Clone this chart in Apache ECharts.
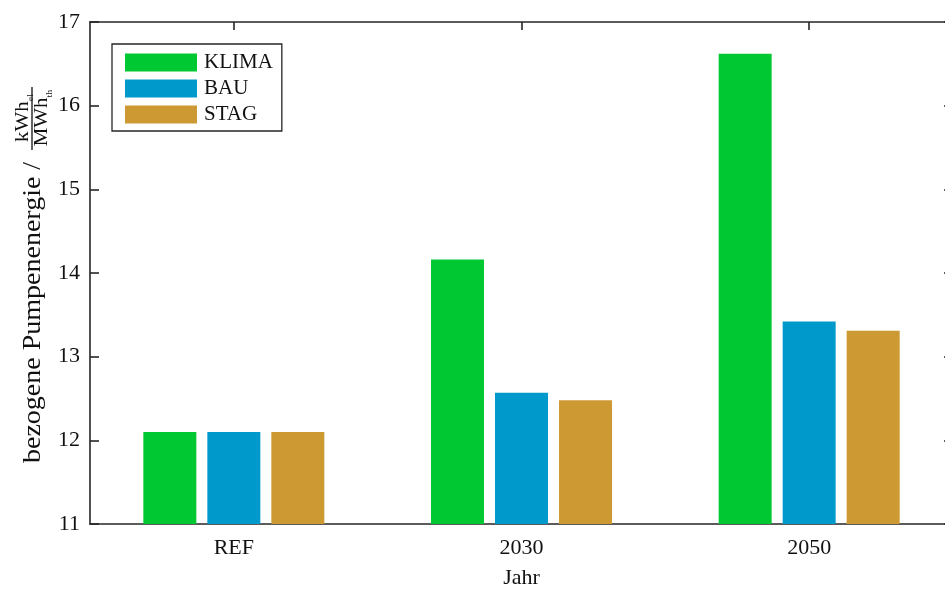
<!DOCTYPE html>
<html>
<head>
<meta charset="utf-8">
<script src="https://cdn.jsdelivr.net/npm/echarts@6/dist/echarts.min.js"></script>
<style>
  html, body { margin: 0; padding: 0; background: #fff; }
  #chart { width: 945px; height: 590px; }
</style>
</head>
<body>
<div id="chart"></div>
<script>
// Scenario years and specific pump energy per scenario (kWh_el / MWh_th)
const years = ['REF', '2030', '2050'];
const klima = [12.10, 14.16, 16.62];
const bau = [12.10, 12.57, 13.42];
const stag = [12.10, 12.48, 13.31];
const yTicks = [11, 12, 13, 14, 15, 16, 17];

const FONT = 'Liberation Serif';
const INK = '#262626';

const chart = echarts.init(document.getElementById('chart'), null, { renderer: 'canvas' });

const frameAxis = {
  axisLine: { show: true, lineStyle: { color: INK, width: 1.6 } },
  splitLine: { show: false }
};

function barSeries(name, data, color) {
  return {
    name: name,
    type: 'bar',
    data: data,
    barWidth: 53,
    barGap: '20.75%',
    itemStyle: { color: color },
    emphasis: { disabled: true },
    animation: false
  };
}

const subRich = {
  a: { fontFamily: FONT, fontSize: 19, fill: '#111', verticalAlign: 'bottom' },
  s: { fontFamily: FONT, fontSize: 9, fill: '#111', verticalAlign: 'bottom', padding: [0, 0, -3, 0] }
};

chart.setOption({
  animation: false,
  backgroundColor: '#ffffff',
  textStyle: { fontFamily: FONT },
  grid: { left: 90, top: 22, bottom: 66, width: 863, containLabel: false, outerBoundsMode: 'none' },
  legend: {
    orient: 'vertical',
    left: 112,
    top: 44,
    padding: [8, 9, 6, 13],
    itemWidth: 72,
    itemHeight: 18,
    itemGap: 5,
    icon: 'rect',
    borderColor: INK,
    borderWidth: 1.3,
    backgroundColor: '#ffffff',
    textStyle: { fontFamily: FONT, fontSize: 21, color: '#111', padding: [0, 0, 0, 2] },
    selectedMode: false,
    data: ['KLIMA', 'BAU', 'STAG']
  },
  xAxis: [
    Object.assign({
      type: 'category',
      data: years,
      position: 'bottom',
      axisTick: { show: true, inside: true, alignWithLabel: true, length: 8, lineStyle: { color: INK, width: 1.6 } },
      axisLabel: { fontFamily: FONT, fontSize: 22, color: '#111', margin: 13 },
      name: 'Jahr',
      nameLocation: 'middle',
      nameGap: 43,
      nameTextStyle: { fontFamily: FONT, fontSize: 22, color: '#111' }
    }, frameAxis),
    Object.assign({
      type: 'category',
      data: years,
      position: 'top',
      axisTick: { show: true, inside: true, alignWithLabel: true, length: 8, lineStyle: { color: INK, width: 1.6 } },
      axisLabel: { show: false }
    }, frameAxis)
  ],
  yAxis: [
    Object.assign({
      type: 'value',
      min: yTicks[0],
      max: yTicks[yTicks.length - 1],
      interval: 1,
      position: 'left',
      axisTick: { show: true, inside: true, length: 9, lineStyle: { color: INK, width: 1.6 } },
      axisLabel: { fontFamily: FONT, fontSize: 22, color: '#111', margin: 10 }
    }, frameAxis),
    Object.assign({
      type: 'value',
      min: yTicks[0],
      max: yTicks[yTicks.length - 1],
      interval: 1,
      position: 'right',
      axisTick: { show: true, inside: true, length: 9, lineStyle: { color: INK, width: 1.6 } },
      axisLabel: { show: false }
    }, frameAxis)
  ],
  series: [
    barSeries('KLIMA', klima, '#00c832'),
    barSeries('BAU', bau, '#0099cc'),
    barSeries('STAG', stag, '#cc9933')
  ],
  graphic: [{
    type: 'group',
    x: 33,
    y: 463,
    rotation: Math.PI / 2,
    silent: true,
    children: [
      {
        type: 'text',
        x: 0, y: 0,
        scaleX: 1.12,
        style: {
          text: 'bezogene Pumpenenergie /',
          font: '25px "Liberation Serif"',
          fill: '#111',
          align: 'left',
          verticalAlign: 'middle'
        }
      },
      {
        type: 'text',
        x: 345, y: -10,
        scaleX: 1.1,
        style: {
          text: '{a|kWh}{s|el}',
          align: 'center',
          verticalAlign: 'middle',
          fill: '#111',
          rich: subRich
        }
      },
      {
        type: 'line',
        shape: { x1: 313, y1: -1, x2: 376, y2: -1 },
        style: { stroke: '#111', lineWidth: 1.3 }
      },
      {
        type: 'text',
        x: 345, y: 9,
        scaleX: 1.1,
        style: {
          text: '{a|MWh}{s|th}',
          align: 'center',
          verticalAlign: 'middle',
          fill: '#111',
          rich: subRich
        }
      }
    ]
  }]
});
</script>
</body>
</html>
